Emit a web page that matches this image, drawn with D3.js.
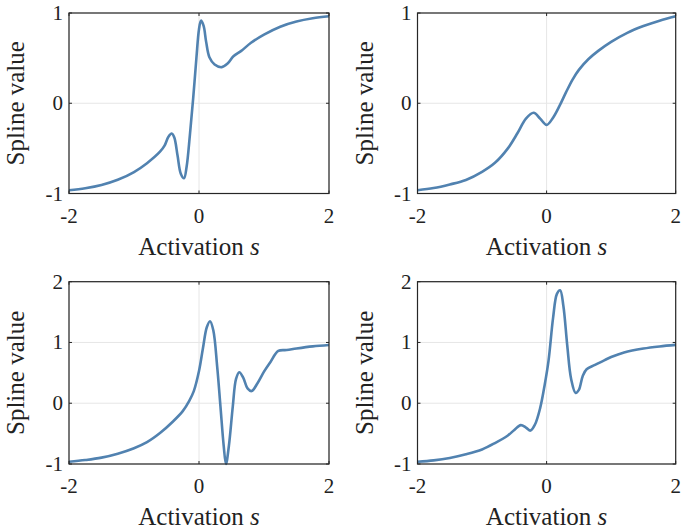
<!DOCTYPE html>
<html>
<head>
<meta charset="utf-8">
<script src="https://cdn.jsdelivr.net/npm/d3@7"></script>
<style>
  html, body { margin: 0; padding: 0; background: #fff; }
  svg { display: block; }
</style>
</head>
<body>
<svg id="chart" width="682" height="529"></svg>
<script>
// Spline activation samples: s (activation) and spline value for each of the four panels
const sA = [-2, -1.75, -1.5, -1.25, -1.0, -0.8, -0.6, -0.53, -0.47, -0.42, -0.38, -0.33, -0.28, -0.23, -0.19, -0.14, -0.09, -0.04, 0.0, 0.03, 0.07, 0.11, 0.16, 0.24, 0.35, 0.44, 0.53, 0.65, 0.8, 1.0, 1.25, 1.5, 1.75, 2.0];
const vA = [-0.964, -0.941, -0.905, -0.848, -0.762, -0.664, -0.537, -0.47, -0.37, -0.335, -0.38, -0.58, -0.78, -0.83, -0.70, -0.35, 0.05, 0.5, 0.82, 0.915, 0.86, 0.68, 0.51, 0.43, 0.40, 0.44, 0.52, 0.58, 0.67, 0.76, 0.848, 0.905, 0.941, 0.964];

const sB = [-2, -1.75, -1.5, -1.25, -1.0, -0.8, -0.6, -0.45, -0.32, -0.2, -0.1, 0.0, 0.1, 0.2, 0.3, 0.4, 0.5, 0.65, 0.8, 1.0, 1.25, 1.5, 1.75, 2.0];
const vB = [-0.964, -0.94, -0.90, -0.85, -0.76, -0.66, -0.50, -0.33, -0.17, -0.105, -0.17, -0.24, -0.16, -0.03, 0.12, 0.26, 0.37, 0.49, 0.58, 0.68, 0.78, 0.855, 0.915, 0.965];

const sC = [-2, -1.75, -1.5, -1.25, -1.0, -0.8, -0.6, -0.4, -0.25, -0.15, -0.08, 0.0, 0.06, 0.12, 0.17, 0.22, 0.28, 0.33, 0.38, 0.415, 0.46, 0.52, 0.57, 0.62, 0.68, 0.75, 0.81, 0.9, 1.0, 1.1, 1.22, 1.35, 1.5, 1.75, 2.0];
const vC = [-0.964, -0.935, -0.895, -0.83, -0.74, -0.64, -0.49, -0.30, -0.13, 0.04, 0.2, 0.53, 0.9, 1.25, 1.35, 1.2, 0.6, -0.05, -0.7, -1.0, -0.7, -0.05, 0.4, 0.51, 0.42, 0.24, 0.2, 0.33, 0.52, 0.68, 0.86, 0.875, 0.90, 0.935, 0.958];

const sD = [-2, -1.75, -1.5, -1.25, -1.0, -0.8, -0.6, -0.5, -0.4, -0.32, -0.25, -0.18, -0.1, -0.03, 0.03, 0.1, 0.16, 0.21, 0.26, 0.32, 0.38, 0.45, 0.5, 0.56, 0.62, 0.75, 0.9, 1.0, 1.2, 1.5, 1.75, 2.0];
const vD = [-0.964, -0.94, -0.90, -0.84, -0.76, -0.655, -0.53, -0.44, -0.36, -0.40, -0.45, -0.35, -0.08, 0.3, 0.7, 1.4, 1.8, 1.86, 1.6, 0.95, 0.4, 0.17, 0.22, 0.45, 0.56, 0.63, 0.71, 0.76, 0.835, 0.9, 0.935, 0.96];

// Axis ticks
const xTicks = [-2, 0, 2];
const yTicksTop = [-1, 0, 1];
const yTicksBottom = [-1, 0, 1, 2];

const xLabel = "Activation ";
const xLabelVar = "s";
const yLabel = "Spline value";

const serif = "'Liberation Serif', 'DejaVu Serif', 'Times New Roman', serif";
const svg = d3.select("#chart")
  .attr("font-family", serif);
const lineColor = "#5182b0";
const inkColor = "#222";

const panels = [
  { s: sA, v: vA, x0: 69,    x1: 329,   y0: 13,    y1: 193.5, yDomain: [-1, 1], yTicks: yTicksTop },
  { s: sB, v: vB, x0: 417.5, x1: 675.7, y0: 13,    y1: 193.5, yDomain: [-1, 1], yTicks: yTicksTop },
  { s: sC, v: vC, x0: 69,    x1: 329,   y0: 281.7, y1: 464,   yDomain: [-1, 2], yTicks: yTicksBottom },
  { s: sD, v: vD, x0: 417.5, x1: 675.7, y0: 281.7, y1: 464,   yDomain: [-1, 2], yTicks: yTicksBottom }
];

const fmt = d => d < 0 ? "-" + Math.abs(d) : String(d);

panels.forEach(p => {
  const x = d3.scaleLinear().domain([-2, 2]).range([p.x0, p.x1]);
  const y = d3.scaleLinear().domain(p.yDomain).range([p.y1, p.y0]);
  const g = svg.append("g");

  // light grid lines
  g.selectAll(".gx").data(xTicks).join("line")
    .attr("x1", d => x(d)).attr("x2", d => x(d))
    .attr("y1", p.y0).attr("y2", p.y1)
    .attr("stroke", "#e6e6e6").attr("stroke-width", 1);
  g.selectAll(".gy").data(p.yTicks).join("line")
    .attr("x1", p.x0).attr("x2", p.x1)
    .attr("y1", d => y(d)).attr("y2", d => y(d))
    .attr("stroke", "#e6e6e6").attr("stroke-width", 1);

  // spline curve
  const pts = p.s.map((s, i) => [s, p.v[i]]);
  const line = d3.line()
    .x(d => x(d[0])).y(d => y(d[1]))
    .curve(d3.curveCatmullRom.alpha(0.5));
  g.append("path").datum(pts)
    .attr("d", line)
    .attr("fill", "none")
    .attr("stroke", lineColor)
    .attr("stroke-width", 2.6)
    .attr("stroke-linejoin", "round");

  // box with inward ticks on all four sides
  const tl = 3;
  g.selectAll(".tb").data(xTicks).join("line")
    .attr("x1", d => x(d)).attr("x2", d => x(d))
    .attr("y1", p.y1).attr("y2", p.y1 - tl)
    .attr("stroke", "#262626");
  g.selectAll(".tt").data(xTicks).join("line")
    .attr("x1", d => x(d)).attr("x2", d => x(d))
    .attr("y1", p.y0).attr("y2", p.y0 + tl)
    .attr("stroke", "#262626");
  g.selectAll(".tlft").data(p.yTicks).join("line")
    .attr("x1", p.x0).attr("x2", p.x0 + tl)
    .attr("y1", d => y(d)).attr("y2", d => y(d))
    .attr("stroke", "#262626");
  g.selectAll(".trt").data(p.yTicks).join("line")
    .attr("x1", p.x1).attr("x2", p.x1 - tl)
    .attr("y1", d => y(d)).attr("y2", d => y(d))
    .attr("stroke", "#262626");
  g.append("rect")
    .attr("x", p.x0).attr("y", p.y0)
    .attr("width", p.x1 - p.x0).attr("height", p.y1 - p.y0)
    .attr("fill", "none").attr("stroke", "#262626").attr("stroke-width", 1.2);

  // tick labels
  g.selectAll(".xl").data(xTicks).join("text")
    .attr("x", d => x(d)).attr("y", p.y1 + 29)
    .attr("text-anchor", "middle")
    .attr("font-family", serif)
    .attr("font-size", 21)
    .attr("fill", inkColor)
    .text(fmt);
  g.selectAll(".yl").data(p.yTicks).join("text")
    .attr("x", p.x0 - 6).attr("y", d => y(d) + 7)
    .attr("text-anchor", "end")
    .attr("font-family", serif)
    .attr("font-size", 21)
    .attr("fill", inkColor)
    .text(fmt);

  // axis titles
  const xt = g.append("text")
    .attr("x", (p.x0 + p.x1) / 2).attr("y", p.y1 + 61)
    .attr("text-anchor", "middle")
    .attr("font-family", serif)
    .attr("font-size", 25)
    .attr("fill", inkColor);
  xt.append("tspan").text(xLabel);
  xt.append("tspan").attr("font-style", "italic").text(xLabelVar);

  g.append("text")
    .attr("transform", `translate(${p.x0 - 45},${(p.y0 + p.y1) / 2}) rotate(-90)`)
    .attr("text-anchor", "middle")
    .attr("font-family", serif)
    .attr("font-size", 25)
    .attr("fill", inkColor)
    .text(yLabel);
});
</script>
</body>
</html>
